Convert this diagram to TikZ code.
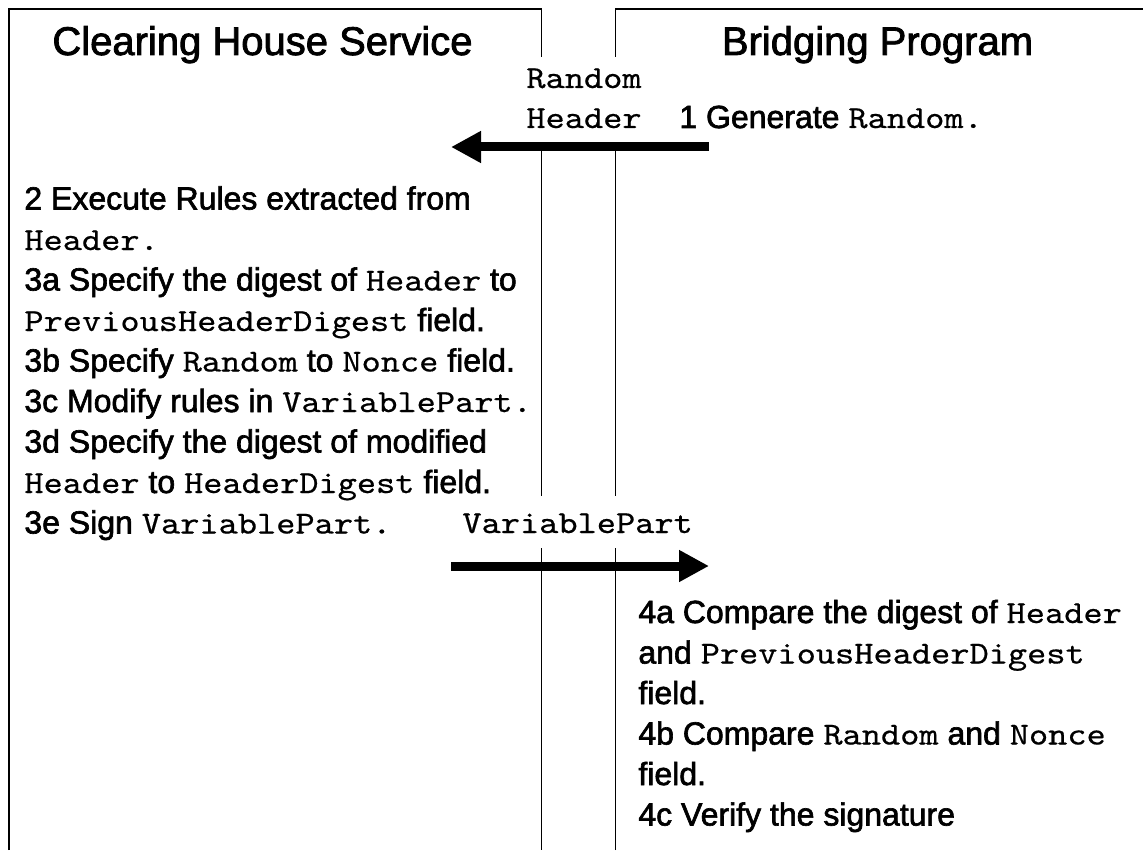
\documentclass[tikz,border=0pt]{standalone}
\usepackage{fontspec}
\setmainfont{Liberation Sans}[FakeBold=2]
% Courier-like typewriter face for code identifiers
\newfontfamily\cw{lmmono10-regular.otf}[FakeStretch=1.143,FakeBold=0.5]
\usetikzlibrary{arrows.meta}
\newcommand\code[1]{{\cw #1}}

\begin{document}
\begin{tikzpicture}[x=0.5pt,y=-0.5pt,
  txt/.style={anchor=base west,inner sep=0pt,font=\fontsize{16}{20}\selectfont},
  ttl/.style={anchor=base,inner sep=0pt,font=\fontsize{20}{24}\selectfont},
  frame/.style={line width=0.8pt,line join=miter},
  msg/.style={line width=4.5pt,-{Triangle[length=15pt,width=15pt]}},
  mask/.style={txt,fill=white,inner xsep=0pt,inner ysep=0pt}]
\useasboundingbox (0,0) rectangle (1143,850);

% swim lanes
\draw[frame] (9,850) -- (9,9) -- (541.5,9) -- (541.5,850);
\draw[frame] (615.5,850) -- (615.5,9) -- (1143,9);

% lane titles
\node[ttl] (chs) at (262.5,55) {Clearing House Service};
\node[ttl] (bp)  at (877.5,55) {Bridging Program};

% message 1: Random, Header
\node[mask,text height=15.5pt,text depth=6pt] (mRandom) at (526,88) {\code{Random}};
\node[mask,text height=14pt,text depth=7.5pt] (mHeader) at (526,128) {\code{Header}};
\coordinate (m1from) at (709,147);
\coordinate (m1to) at (451,147);
\draw[msg] (m1from) -- (m1to);
\node[txt] (s1) at (679,128) {1 Generate \code{Random.}};

% steps of the clearing house service
\node[txt] (s2a) at (24,209.5) {2 Execute Rules extracted from};
\node[txt] (s2b) at (24,250)   {\code{Header.}};
\node[txt] (s3a) at (24,290.5) {3a Specify the digest of \code{Header} to};
\node[txt] (s3a2) at (24,331)  {\code{PreviousHeaderDigest} field.};
\node[txt] (s3b) at (24,371.5) {3b Specify \code{Random} to \code{Nonce} field.};
\node[txt] (s3c) at (24,412)   {3c Modify rules in \code{VariablePart.}};
\node[txt] (s3d) at (24,452.5) {3d Specify the digest of modified};
\node[txt] (s3d2) at (24,493)  {\code{Header} to \code{HeaderDigest} field.};
\node[txt] (s3e) at (24,533.5) {3e Sign \code{VariablePart.}};

% message 2: VariablePart
\node[mask,text height=18.6pt,text depth=7.4pt] (mVar) at (462,533) {\code{VariablePart}};
\coordinate (m2from) at (451,566);
\coordinate (m2to) at (709,566);
\draw[msg] (m2from) -- (m2to);

% checks of the bridging program
\node[txt] (s4a) at (638,623)   {4a Compare the digest of \code{Header}};
\node[txt] (s4a2) at (638,663.5) {and \code{PreviousHeaderDigest}};
\node[txt] (s4a3) at (638,704)   {field.};
\node[txt] (s4b) at (638,744.5) {4b Compare \code{Random} and \code{Nonce}};
\node[txt] (s4b2) at (638,785)   {field.};
\node[txt] (s4c) at (638,825.5) {4c Verify the signature};
\end{tikzpicture}
\end{document}
